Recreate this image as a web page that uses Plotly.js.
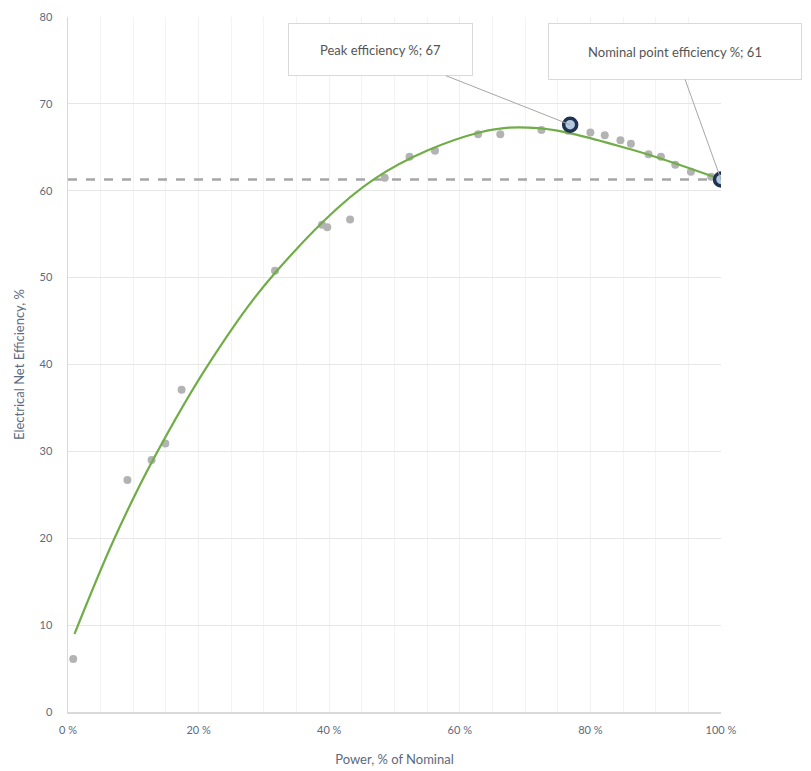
<!DOCTYPE html>
<html>
<head>
<meta charset="utf-8">
<script src="https://cdn.plot.ly/plotly-3.0.1.min.js"></script>
<style>html,body{margin:0;padding:0;background:#fff;}#chart{width:811px;height:771px;}</style>
</head>
<body>
<div id="chart"></div>
<script>
// Measured data points (Power % of nominal, efficiency %)
const measPower = [0.8, 9.1, 12.8, 14.9, 17.4, 31.7, 38.9, 39.7, 43.2, 48.5, 52.3, 56.2, 62.8, 66.2, 72.5, 76.6, 80.0, 82.2, 84.6, 86.2, 88.9, 90.8, 93.0, 95.4, 98.5];
const measEff   = [6.1, 26.7, 29.0, 30.9, 37.1, 50.8, 56.1, 55.8, 56.7, 61.5, 63.9, 64.6, 66.5, 66.5, 67.0, 66.9, 66.7, 66.4, 65.8, 65.4, 64.2, 63.9, 63.0, 62.2, 61.6];

// Trend curve
const fitPower = [1, 7, 13, 22, 32, 47, 63, 72, 86, 100];
const fitEff   = [9, 19.8, 29, 40.6, 50.8, 61.4, 66.7, 67.2, 64.8, 61.3];

// Nominal level reference line
const nominalX = [0, 100];
const nominalY = [61.3, 61.3];

// Highlighted points
const peakPower = [76.9], peakEff = [67.6];
const nomPower = [100], nomEff = [61.3];
const peakLabel = "Peak efficiency %; 67";
const nomLabel = "Nominal point efficiency %; 61";

const xTitle = "Power, % of Nominal";
const yTitle = "Electrical Net Efficiency, %";

const font = "Lato, 'Open Sans', sans-serif";
const axisText = "#5b6a80";

const traces = [
  {x: nominalX, y: nominalY, mode: 'lines', line: {color: '#a6a6a6', width: 2.5, dash: 'dash'}, hoverinfo: 'skip'},
  {x: measPower, y: measEff, mode: 'markers', marker: {color: '#b3b3b3', size: 8}},
  {x: fitPower, y: fitEff, mode: 'lines', line: {color: '#70ad47', width: 2.2, shape: 'spline', smoothing: 1}},
  {x: peakPower.concat(nomPower), y: peakEff.concat(nomEff), mode: 'markers',
   marker: {color: '#b4c9e0', size: 13, line: {color: '#1f3251', width: 3.5}}}
];

const layout = {
  width: 811, height: 771,
  margin: {l: 68, r: 90, t: 17, b: 59},
  showlegend: false,
  paper_bgcolor: '#fff', plot_bgcolor: '#fff',
  font: {family: font, size: 12, color: axisText},
  xaxis: {
    range: [0, 100], dtick: 20, tick0: 0, ticksuffix: ' %',
    showgrid: true, gridcolor: '#f0f0f0', gridwidth: 1,
    minor: {dtick: 5, showgrid: true, gridcolor: '#f3f3f3'},
    showline: true, linecolor: '#d9d9d9', linewidth: 1.5,
    zeroline: false, ticks: '', ticklabelstandoff: 7,
    tickfont: {size: 11, color: axisText},
    title: {text: xTitle, font: {size: 13, color: axisText}, standoff: 20}
  },
  yaxis: {
    range: [0, 80], dtick: 10, tick0: 0,
    showgrid: true, gridcolor: '#e6e6e6', gridwidth: 1,
    showline: true, linecolor: '#d9d9d9', linewidth: 1.5,
    zeroline: false, ticks: '', ticklabelstandoff: 12,
    tickfont: {size: 11, color: axisText},
    title: {text: yTitle, font: {size: 13, color: axisText}, standoff: 12}
  },
  annotations: [
    {x: peakPower[0], y: peakEff[0], xref: 'x', yref: 'y', text: peakLabel,
     showarrow: true, arrowhead: 0, arrowwidth: 1, arrowcolor: '#a6a6a6',
     ax: -190, ay: -75, bgcolor: '#fff', bordercolor: '#d9d9d9', borderwidth: 1,
     borderpad: 8, width: 167, height: 35, font: {size: 13, color: '#555555', family: font}},
    {x: nomPower[0], y: nomEff[0], xref: 'x', yref: 'y', text: nomLabel,
     showarrow: true, arrowhead: 0, arrowwidth: 1, arrowcolor: '#a6a6a6',
     ax: -46, ay: -128, bgcolor: '#fff', bordercolor: '#d9d9d9', borderwidth: 1,
     borderpad: 8, width: 236, height: 39, font: {size: 13, color: '#555555', family: font}}
  ]
};

Plotly.newPlot('chart', traces, layout, {displayModeBar: false, staticPlot: true});
</script>
</body>
</html>
